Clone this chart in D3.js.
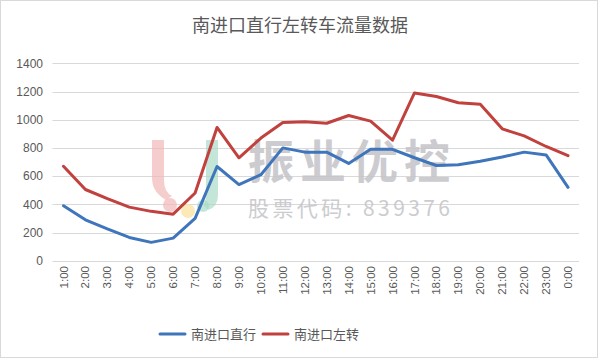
<!DOCTYPE html>
<html><head><meta charset="utf-8">
<script src="https://cdn.jsdelivr.net/npm/d3@7/dist/d3.min.js"></script>
<style>body{margin:0;background:#fff;}svg{display:block;font-family:"Noto Sans CJK SC","Microsoft YaHei",sans-serif;}</style>
</head><body>
<svg id="c" width="600" height="360"></svg>
<script>
const categories = ["1:00","2:00","3:00","4:00","5:00","6:00","7:00","8:00","9:00","10:00","11:00","12:00","13:00","14:00","15:00","16:00","17:00","18:00","19:00","20:00","21:00","22:00","23:00","0:00"];
const straight = [390,290,225,165,130,160,300,668,540,610,800,770,770,690,790,790,730,675,680,705,735,770,750,520];
const leftTurn = [670,505,440,380,350,330,480,945,730,870,980,985,975,1030,990,855,1190,1165,1120,1110,935,885,810,745];
const yTicks = [0,200,400,600,800,1000,1200,1400];
const seriesNames = ["南进口直行","南进口左转"];
const title = "南进口直行左转车流量数据";

const svg = d3.select("#c");
const W = 600, H = 360;
svg.append("rect").attr("x",0.5).attr("y",0.5).attr("width",W-3).attr("height",H-3)
  .attr("fill","#fff").attr("stroke","#d9d9d9");

const x = d3.scaleBand().domain(categories).range([52.5,579]);
const y = d3.scaleLinear().domain([0,1400]).range([260.7,63.3]);

// gridlines
const g = svg.append("g");
g.selectAll("line.grid").data(yTicks).join("line")
  .attr("x1",52.5).attr("x2",579)
  .attr("y1",d=>Math.round(y(d))+0.5).attr("y2",d=>Math.round(y(d))+0.5)
  .attr("stroke","#d9d9d9").attr("stroke-width",1);

// y axis labels
const yAxis = d3.axisLeft(y).tickValues(yTicks).tickFormat(d3.format("d")).tickSize(0).tickPadding(0);
const ya = svg.append("g").attr("transform","translate(43,0)").call(yAxis);
ya.select(".domain").remove();
ya.selectAll("text").attr("fill","#595959").style("font-family","'Liberation Sans',Arial,sans-serif").style("font-size","12px");

// x axis labels rotated
const xAxis = d3.axisBottom(x).tickSize(0).tickPadding(0);
const xa = svg.append("g").attr("transform","translate(0,266)").call(xAxis);
xa.select(".domain").remove();
xa.selectAll(".tick text").attr("fill","#595959").style("font-family","'Liberation Sans',Arial,sans-serif").style("font-size","11.5px")
  .attr("transform","rotate(-90)").attr("x",0).attr("y",0).attr("dx",0).attr("dy","0.35em")
  .attr("text-anchor","end");

// watermark
const wm = svg.append("g");
wm.append("path").attr("d","M152,140 L164,140 L164,180 Q164,192 172,196 L166,200 Q152,192 152,178 Z").attr("fill","#f2b8b8").attr("opacity",0.7);
wm.append("circle").attr("cx",170).attr("cy",205).attr("r",7).attr("fill","#f2b8b8").attr("opacity",0.7);
wm.append("circle").attr("cx",188).attr("cy",211).attr("r",7).attr("fill","#fbe3a6").attr("opacity",0.8);
wm.append("path").attr("d","M206,140 L218,140 L218,195 Q218,207 208,210 L204,206 Q206,200 206,190 Z").attr("fill","#a9dcc8").attr("opacity",0.7);
wm.append("circle").attr("cx",203).attr("cy",206).attr("r",6).attr("fill","#a9dcc8").attr("opacity",0.7);
wm.append("text").attr("x",248).attr("y",178).text("振业优控")
  .attr("fill","#c4c4c8").attr("opacity",0.85).style("font-size","46px").style("font-weight","bold").attr("textLength",202);
wm.append("text").attr("x",248).attr("y",216).text("股票代码: 839376")
  .attr("fill","#c4c4c8").attr("opacity",0.85).style("font-size","21px").attr("textLength",202);

// lines
const line = d3.line().x((d,i)=>x(categories[i])+x.bandwidth()/2).y(d=>y(d));
const colors = ["#3f75bb","#c0413e"];
[straight,leftTurn].forEach((s,k)=>{
  svg.append("path").datum(s).attr("d",line).attr("fill","none")
    .attr("stroke",colors[k]).attr("stroke-width",3).attr("stroke-linejoin","round").attr("stroke-linecap","round");
});

// title
svg.append("text").attr("x",300).attr("y",32).attr("text-anchor","middle").text(title)
  .attr("fill","#595959").style("font-size","18px");

// legend
const leg = svg.append("g");
const legItems = [{x:160,tx:191},{x:263,tx:294}];
legItems.forEach((it,k)=>{
  leg.append("line").attr("x1",it.x).attr("x2",it.x+25).attr("y1",334).attr("y2",334)
    .attr("stroke",colors[k]).attr("stroke-width",3).attr("stroke-linecap","round");
  leg.append("text").attr("x",it.tx).attr("y",339).text(seriesNames[k]).attr("fill","#595959").style("font-size","13px");
});
</script>
</body></html>
